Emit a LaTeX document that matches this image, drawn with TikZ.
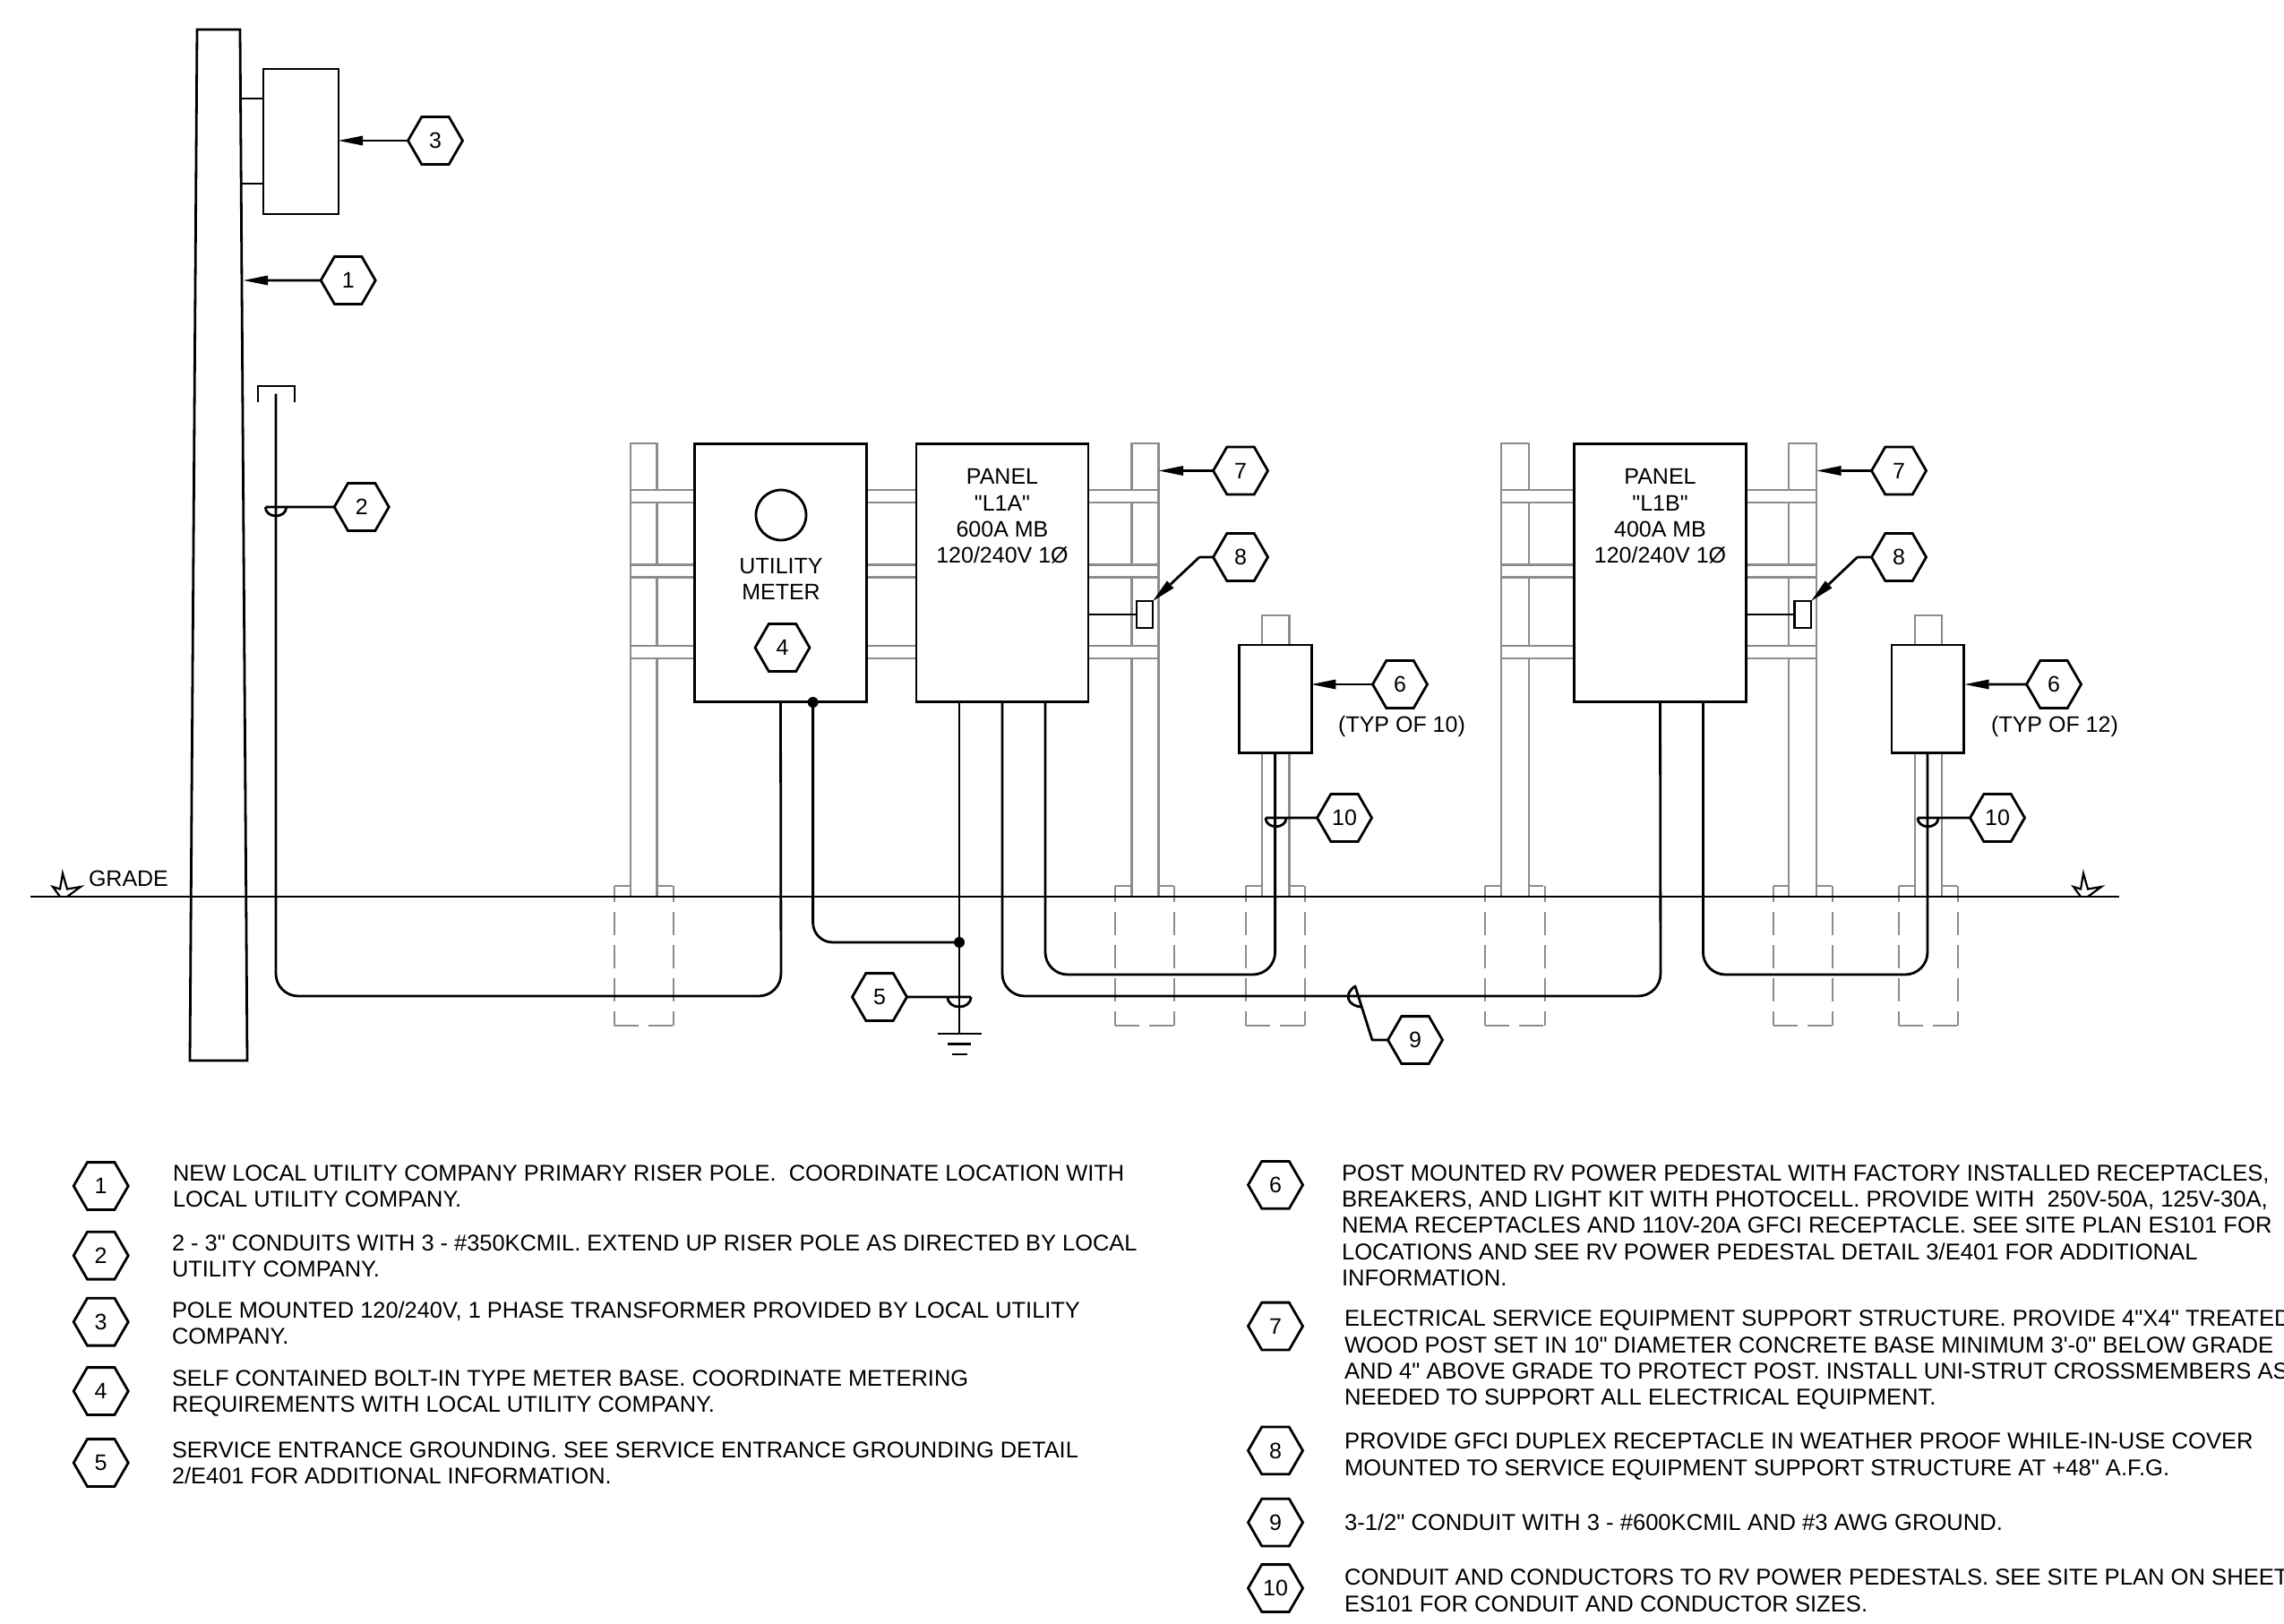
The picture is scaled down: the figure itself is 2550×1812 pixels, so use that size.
\documentclass[tikz,border=0pt]{standalone}
\usepackage{fontspec}
\usetikzlibrary{shapes.geometric,arrows.meta}
\newfontfamily\lbl{Liberation Sans}
\newcommand{\postbar}[3]{\draw[grayline,fill=white] (#1,#3) rectangle (#2,1001);}
\newcommand{\crossbar}[3]{\draw[grayline,fill=white] (#1,#3) rectangle (#2,{#3+14});}
\newcommand{\footing}[2]{%
  \draw[grayline,dash pattern=on 26pt off 11pt,dash phase=8pt] (#1,989) -- (#1,1145);
  \draw[grayline,dash pattern=on 26pt off 11pt,dash phase=8pt] (#2,989) -- (#2,1145);
  \draw[grayline,dash pattern=on 27pt off 11pt] (#1,989) -- (#2,989);
  \draw[grayline,dash pattern=on 27pt off 11pt] (#1,1145) -- (#2,1145);}
\newcommand{\semi}[3]{\draw[wire] ({#1-#3},#2) .. controls ({#1-#3},{#2+1.33*#3*0.85}) and ({#1+#3},{#2+1.33*#3*0.85}) .. ({#1+#3},#2);}
\newcommand{\brk}[1]{\draw[wire,line width=2.2pt,line join=miter] ({2323+#1},1001) -- ({2315+#1},990) -- ({2323+#1},992.5) -- ({2326+#1},975) -- ({2331+#1},992.5) -- ({2346+#1},990) -- ({2331+#1},1001);}
\tikzset{
  x=1pt,y=-1pt,
  wire/.style={line width=2.8pt,black},
  grayline/.style={line width=2.8pt,black!45},
  arr/.style={wire,-{Triangle[length=27pt,width=11pt,line width=0pt]}},
  hex/.style={draw,line width=2.8pt,fill=white,regular polygon,regular polygon sides=6,minimum size=61pt,inner sep=0pt,outer sep=0pt,font=\lbl\fontsize{25}{29}\selectfont},
  boxnode/.style={draw,line width=2.8pt,fill=white,inner sep=0pt,outer sep=0pt},
  lab/.style={inner sep=0pt,outer sep=0pt,align=center,font=\lbl\fontsize{25}{29}\selectfont},
  leg/.style={inner sep=0pt,outer sep=0pt,anchor=north west,align=left,font=\lbl\fontsize{25.6}{29.2}\selectfont},
  legl/.style={inner sep=0pt,outer sep=0pt,anchor=north west,align=left,font=\lbl\fontsize{25.4}{29}\selectfont},
  dot/.style={circle,fill=black,minimum size=12pt,inner sep=0pt,outer sep=0pt},
}
\begin{document}
\begin{tikzpicture}
\useasboundingbox (0,0) rectangle (2550,1812);
\fill[white] (0,0) rectangle (2550,1812);

% footings
\footing{686}{752}\footing{1245}{1311}\footing{1391}{1457}
\footing{1658}{1725}\footing{1980}{2046}\footing{2120}{2186}

% posts and crossmembers
\postbar{704}{733.5}{495}\postbar{1263.5}{1293.5}{495}
\postbar{1676}{1707}{495}\postbar{1997}{2028}{495}
\postbar{1409}{1439.5}{687}\postbar{2138}{2168}{687}
\crossbar{704}{1293.5}{547}\crossbar{704}{1293.5}{630.5}\crossbar{704}{1293.5}{721}
\crossbar{1676}{2028}{547}\crossbar{1676}{2028}{630.5}\crossbar{1676}{2028}{721}

% pole
\coordinate (poleTL) at (220,33);
\coordinate (poleTR) at (268,33);
\coordinate (poleBR) at (276,1184);
\coordinate (poleBL) at (212,1184);
\draw[wire] (poleTL) -- (poleTR) -- (poleBR) -- (poleBL) -- cycle;

% transformer
\node[boxnode,minimum width=84pt,minimum height=162pt] (xfmr) at (336,158) {};
\coordinate (br1) at (269,110);
\coordinate (br2) at (270,205);
\draw[wire] (br1) -- (br1 -| xfmr.west);
\draw[wire] (br2) -- (br2 -| xfmr.west);

% boxes
\node[boxnode,minimum width=192pt,minimum height=288pt] (meter) at (871.5,639.5) {};
\node[boxnode,minimum width=192pt,minimum height=288pt] (panelA) at (1119,639.5) {};
\node[boxnode,minimum width=192.5pt,minimum height=288pt] (panelB) at (1853.5,639.5) {};
\node[boxnode,minimum width=80.5pt,minimum height=120.5pt] (pedA) at (1424,780.3) {};
\node[boxnode,minimum width=80.5pt,minimum height=120.5pt] (pedB) at (2152.3,780.3) {};
\node[boxnode,minimum width=18pt,minimum height=30pt] (recA) at (1278,686) {};
\node[boxnode,minimum width=18.5pt,minimum height=30pt] (recB) at (2012.8,686) {};
\draw[wire] (panelA.east |- recA.west) -- (recA.west);
\draw[wire] (panelB.east |- recB.west) -- (recB.west);
\node[draw,circle,line width=2.8pt,minimum size=56pt,inner sep=0pt,outer sep=0pt,fill=white] (gauge) at (872,575) {};

% box texts
\node[lab] (tMeter) at (872,646.5) {UTILITY\\METER};
\node[lab,text height=18pt,text depth=0pt] (tA1) at (1119,531.6) {PANEL};
\node[lab,text height=18pt,text depth=0pt] (tA2) at (1119,561) {"L1A"};
\node[lab,text height=18pt,text depth=0pt] (tA3) at (1119,590.5) {600A MB};
\node[lab,text height=18pt,text depth=0pt] (tA4) at (1119,619.5) {120/240V 1Ø};
\node[lab,text height=18pt,text depth=0pt] (tB1) at (1853.5,531.6) {PANEL};
\node[lab,text height=18pt,text depth=0pt] (tB2) at (1853.5,561) {"L1B"};
\node[lab,text height=18pt,text depth=0pt] (tB3) at (1853.5,590.5) {400A MB};
\node[lab,text height=18pt,text depth=0pt] (tB4) at (1853.5,619.5) {120/240V 1Ø};
\node[lab,text height=18pt,text depth=0pt] (typA) at (1565,808) {(TYP OF 10)};
\node[lab,text height=18pt,text depth=0pt] (typB) at (2294,808) {(TYP OF 12)};
\node[lab,anchor=west,text height=18pt,text depth=0pt] (grade) at (99,980.5) {GRADE};

% conduits
\coordinate (cA) at (1167,784);
\coordinate (cB) at (1901.4,784);
\coordinate (capC) at (308,439.5);
\coordinate (gnd) at (1071,1154);
\coordinate (pedAout) at (1423.6,840.5);
\coordinate (pedBout) at (2152,840.5);
\node[dot] (dotTop) at (907.6,784) {};
\node[dot] (dotJoin) at (1071,1052) {};
\draw[wire,rounded corners=25pt] (capC) |- (872,1112) -- (meter.south);
\draw[wire,rounded corners=25pt] (panelA.south) |- (1854,1112) -- (panelB.south);
\draw[wire,rounded corners=25pt] (cA) |- (1423.6,1088) -- (pedAout);
\draw[wire,rounded corners=25pt] (cB) |- (2152,1088) -- (pedBout);
\draw[wire,rounded corners=22pt] (dotTop.center) |- (dotJoin.center);
\draw[wire] (1071,784) -- (gnd);
\coordinate (g1a) at (1047,1154);\coordinate (g1b) at (1096,1154);
\coordinate (g2a) at (1058,1165.5);\coordinate (g2b) at (1084,1165.5);
\coordinate (g3a) at (1063,1177);\coordinate (g3b) at (1080,1177);
\draw[wire] (g1a) -- (g1b);\draw[wire] (g2a) -- (g2b);\draw[wire] (g3a) -- (g3b);

% weatherhead
\coordinate (cap1) at (288,448.5);\coordinate (cap2) at (288,431);
\coordinate (cap3) at (329,431);\coordinate (cap4) at (329,448.5);
\draw[wire,line join=miter] (cap1) -- (cap2) -- (cap3) -- (cap4);

% grade
\coordinate (gl) at (34,1001);\coordinate (gr) at (2366,1001);
\draw[wire] (gl) -- (gr);
\brk{0}\brk{-2256}

% leaders
\node[hex] (h3) at (486,157) {3};
\draw[arr] (h3.west) -- (h3.west -| xfmr.east);
\node[hex] (h1) at (388.7,313) {1};
\coordinate (p1) at (272,313);
\draw[arr] (h1.west) -- (p1);
\node[hex] (h2) at (403.7,566) {2};
\coordinate (s2) at (296.5,566);
\draw[wire] (h2.west) -- (s2);
\semi{308}{566}{11.7}
\node[hex] (h4) at (873.5,723) {4};
\node[hex] (h7a) at (1385,525.5) {7};
\coordinate (p7a) at (1294,525.5);
\draw[arr] (h7a.west) -- (p7a);
\node[hex] (h8a) at (1385,622) {8};
\coordinate (k8a) at (1339,622);
\draw[wire] (h8a.west) -- (k8a);
\draw[arr] (k8a) -- (recA.north east);
\node[hex] (h6a) at (1563,764) {6};
\draw[arr] (h6a.west) -- (h6a.west -| pedA.east);
\node[hex] (h10a) at (1501,913) {10};
\coordinate (s10a) at (1413,913);
\draw[wire] (h10a.west) -- (s10a);
\semi{1424.5}{913}{11.5}
\node[hex] (h5) at (982,1113) {5};
\coordinate (s5) at (1084,1113);
\draw[wire] (h5.east) -- (s5);
\semi{1071}{1113}{13}
\node[hex] (h9) at (1580,1161) {9};
\coordinate (k9) at (1532,1161);
\coordinate (s9a) at (1513,1101);
\coordinate (s9b) at (1521,1124);
\draw[wire,line join=round] (h9.west) -- (k9) -- (s9a) .. controls (1499,1110) and (1505,1124) .. (s9b);
\node[hex] (h7b) at (2120,525.5) {7};
\coordinate (p7b) at (2028.5,525.5);
\draw[arr] (h7b.west) -- (p7b);
\node[hex] (h8b) at (2120,622) {8};
\coordinate (k8b) at (2073.6,622);
\draw[wire] (h8b.west) -- (k8b);
\draw[arr] (k8b) -- (recB.north east);
\node[hex] (h6b) at (2293,764) {6};
\coordinate (p6b) at (2193.6,764);
\draw[arr] (h6b.west) -- (p6b);
\node[hex] (h10b) at (2230,913) {10};
\coordinate (s10b) at (2141,913);
\draw[wire] (h10b.west) -- (s10b);
\semi{2152.5}{913}{11.5}

% legend, left
\node[hex] (l1) at (112.7,1324) {1};
\node[hex] (l2) at (112.7,1401.7) {2};
\node[hex] (l3) at (112.7,1475.7) {3};
\node[hex] (l4) at (112.7,1553) {4};
\node[hex] (l5) at (112.7,1633) {5};
\node[legl] (t1) at (193,1301) {NEW LOCAL UTILITY COMPANY PRIMARY RISER POLE.\ \ COORDINATE LOCATION WITH\\LOCAL UTILITY COMPANY.};
\node[legl] (t2) at (192,1379) {2 - 3" CONDUITS WITH 3 - \#350KCMIL. EXTEND UP RISER POLE AS DIRECTED BY LOCAL\\UTILITY COMPANY.};
\node[legl] (t3) at (192,1453) {POLE MOUNTED 120/240V, 1 PHASE TRANSFORMER PROVIDED BY LOCAL UTILITY\\COMPANY.};
\node[legl] (t4) at (192,1530) {SELF CONTAINED BOLT-IN TYPE METER BASE. COORDINATE METERING\\REQUIREMENTS WITH LOCAL UTILITY COMPANY.};
\node[legl] (t5) at (192,1610) {SERVICE ENTRANCE GROUNDING. SEE SERVICE ENTRANCE GROUNDING DETAIL\\2/E401 FOR ADDITIONAL INFORMATION.};

% legend, right
\node[hex] (l6) at (1424,1322.8) {6};
\node[hex] (l7) at (1424,1480.5) {7};
\node[hex] (l8) at (1424,1619.4) {8};
\node[hex] (l9) at (1424,1699.6) {9};
\node[hex] (l10) at (1424,1773) {10};
\node[leg] (t6) at (1498,1300.6) {POST MOUNTED RV POWER PEDESTAL WITH FACTORY INSTALLED RECEPTACLES,\\BREAKERS, AND LIGHT KIT WITH PHOTOCELL. PROVIDE WITH\ \ 250V-50A, 125V-30A,\\NEMA RECEPTACLES AND 110V-20A GFCI RECEPTACLE. SEE SITE PLAN ES101 FOR\\LOCATIONS AND SEE RV POWER PEDESTAL DETAIL 3/E401 FOR ADDITIONAL\\INFORMATION.};
\node[leg] (t7) at (1501,1463) {ELECTRICAL SERVICE EQUIPMENT SUPPORT STRUCTURE. PROVIDE 4"X4" TREATED\\WOOD POST SET IN 10" DIAMETER CONCRETE BASE MINIMUM 3'-0" BELOW GRADE\\AND 4" ABOVE GRADE TO PROTECT POST. INSTALL UNI-STRUT CROSSMEMBERS AS\\NEEDED TO SUPPORT ALL ELECTRICAL EQUIPMENT.};
\node[leg] (t8) at (1501,1600) {PROVIDE GFCI DUPLEX RECEPTACLE IN WEATHER PROOF WHILE-IN-USE COVER\\MOUNTED TO SERVICE EQUIPMENT SUPPORT STRUCTURE AT +48" A.F.G.};
\node[leg] (t9) at (1501,1689.6) {3-1/2" CONDUIT WITH 3 - \#600KCMIL AND \#3 AWG GROUND.};
\node[leg] (t10) at (1501,1752) {CONDUIT AND CONDUCTORS TO RV POWER PEDESTALS. SEE SITE PLAN ON SHEET\\ES101 FOR CONDUIT AND CONDUCTOR SIZES.};
\end{tikzpicture}
\end{document}
